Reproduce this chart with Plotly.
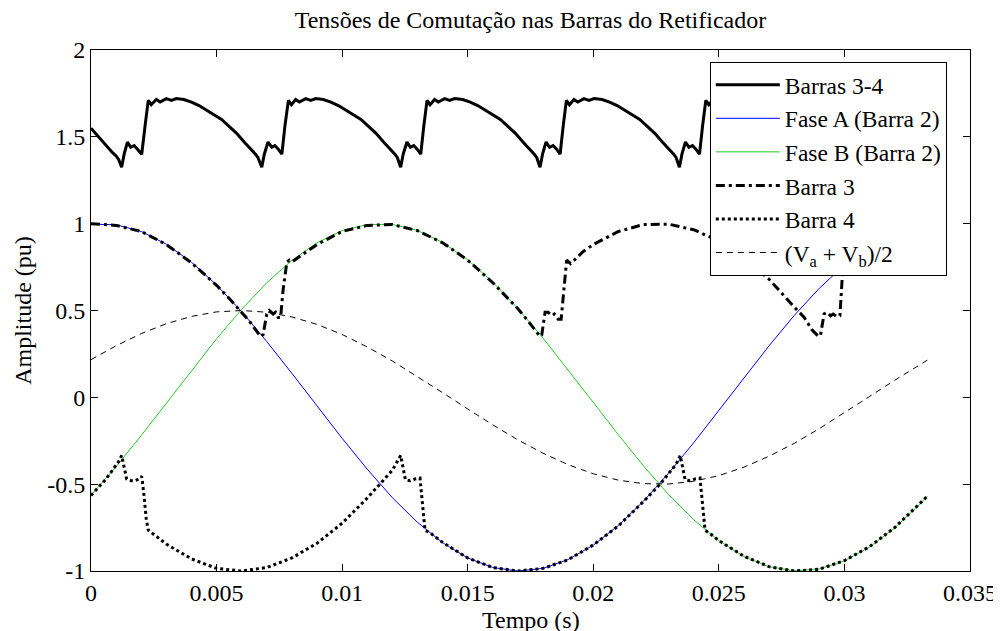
import plotly.graph_objects as go

# ---------------- data (time in ms, values in pu) ----------------
t_phase = [0, 1, 2, 3, 4, 5, 6, 7, 8, 9, 10, 11, 12, 13, 14, 15, 16, 17, 18, 19,
           20, 21, 22, 23, 24, 25, 26, 27, 28, 29, 30, 31, 32, 33, 33.3]
fase_a = [0.997, 0.994, 0.955, 0.882, 0.778, 0.647, 0.493, 0.321, 0.138, -0.050,
          -0.236, -0.414, -0.578, -0.720, -0.837, -0.925, -0.980, -1.000, -0.985, -0.934,
          -0.851, -0.738, -0.598, -0.437, -0.261, -0.075, 0.113, 0.297, 0.471, 0.628,
          0.762, 0.870, 0.947, 0.990, 0.997]
fase_b = [-0.564, -0.399, -0.220, -0.034, 0.154, 0.337, 0.507, 0.660, 0.789, 0.890,
          0.960, 0.995, 0.996, 0.961, 0.892, 0.792, 0.663, 0.511, 0.341, 0.158,
          -0.029, -0.216, -0.395, -0.560, -0.705, -0.826, -0.917, -0.975, -0.999, -0.988,
          -0.942, -0.862, -0.752, -0.615, -0.569]
media_ab = [0.217, 0.297, 0.367, 0.424, 0.466, 0.492, 0.500, 0.490, 0.463, 0.420,
            0.362, 0.290, 0.209, 0.120, 0.027, -0.067, -0.159, -0.245, -0.322, -0.388,
            -0.440, -0.477, -0.497, -0.499, -0.483, -0.451, -0.402, -0.339, -0.265, -0.180,
            -0.090, 0.005, 0.098, 0.188, 0.214]

t_b3 = [0, 1, 2, 3, 4, 5, 5.5, 6, 6.3, 6.55, 6.75,
        6.85, 7.0, 7.1, 7.25, 7.35, 7.45, 7.55, 7.65, 7.8, 7.9,
        8.0, 8.3, 9, 10, 11, 12, 13, 14, 15, 16, 17, 17.4, 17.7, 17.88,
        17.95, 18.08, 18.2, 18.35, 18.45, 18.6, 18.72, 18.82, 18.94,
        19.1, 19.3, 19.6, 20, 21, 22, 23, 24, 25, 26, 27, 28, 28.4, 28.7, 28.97,
        29.05, 29.19, 29.3, 29.45, 29.55, 29.7, 29.82, 29.93,
        30, 31, 32, 33, 33.3]
barra3 = [1.0, 0.99, 0.955, 0.88, 0.775, 0.645, 0.57, 0.49, 0.44, 0.39, 0.35,
          0.36, 0.48, 0.50, 0.48, 0.49, 0.46, 0.46, 0.62, 0.78, 0.79,
          0.78, 0.81, 0.88, 0.955, 0.99, 0.995, 0.96, 0.89, 0.79, 0.66, 0.51, 0.44, 0.38, 0.35,
          0.36, 0.49, 0.49, 0.47, 0.48, 0.45, 0.45, 0.62, 0.79,
          0.77, 0.80, 0.84, 0.88, 0.955, 0.995, 0.997, 0.965, 0.90, 0.80, 0.68, 0.52, 0.46, 0.39, 0.35,
          0.36, 0.48, 0.49, 0.47, 0.48, 0.465, 0.47, 0.73,
          0.76, 0.87, 0.945, 0.99, 0.997]

t_b4 = [0, 0.3, 0.6, 0.9, 1.1, 1.22, 1.32, 1.42, 1.6, 1.75, 1.9, 2.02, 2.1, 2.2, 2.28,
        2.5, 3, 4, 5, 6, 7, 8, 9, 10, 11, 11.5, 12, 12.33,
        12.42, 12.52, 12.7, 12.9, 13.1, 13.2, 13.3,
        13.5, 14, 15, 16, 17, 18, 19, 20, 21, 22, 22.66, 23, 23.3, 23.46,
        23.56, 23.66, 23.85, 24.05, 24.25, 24.35, 24.45,
        24.7, 25, 26, 27, 28, 29, 30, 31, 32, 33, 33.3]
barra4 = [-0.565, -0.52, -0.47, -0.41, -0.37, -0.335, -0.40, -0.47, -0.48, -0.48, -0.47, -0.455, -0.55, -0.70, -0.765,
          -0.79, -0.845, -0.93, -0.985, -1.0, -0.98, -0.925, -0.84, -0.725, -0.58, -0.50, -0.42, -0.335,
          -0.40, -0.475, -0.48, -0.47, -0.465, -0.60, -0.765,
          -0.78, -0.835, -0.925, -0.98, -1.0, -0.985, -0.935, -0.85, -0.74, -0.60, -0.50, -0.44, -0.385, -0.335,
          -0.40, -0.475, -0.48, -0.47, -0.465, -0.60, -0.765,
          -0.79, -0.825, -0.915, -0.975, -1.0, -0.99, -0.94, -0.86, -0.75, -0.615, -0.57]

t_b34 = [0, 0.3, 0.6, 0.85, 1.0, 1.1, 1.22, 1.32, 1.45, 1.58, 1.72, 1.85, 2.02, 2.15, 2.28, 2.4, 2.6, 2.75,
         3.0, 3.2, 3.4, 3.7, 4.0, 4.3, 4.6, 4.9, 5.2, 5.5, 5.8, 6.1, 6.4, 6.55, 6.65, 6.8,
         6.9, 7.05, 7.2, 7.32, 7.45, 7.6, 7.72, 7.86, 7.98, 8.15, 8.3, 8.55, 8.75, 8.95, 9.25, 9.55,
         9.85, 10.15, 10.45, 10.75, 11.05, 11.35, 11.65, 11.95, 12.1, 12.2, 12.33,
         12.43, 12.58, 12.72, 12.85, 12.98, 13.13, 13.25, 13.38, 13.5, 13.68, 13.83, 14.08, 14.28, 14.48,
         14.8, 15.1, 15.4, 15.7, 16.0, 16.3, 16.6, 16.9, 17.2, 17.5, 17.65, 17.75, 17.88,
         17.98, 18.12, 18.26, 18.4, 18.53, 18.68, 18.8, 18.93, 19.05, 19.23, 19.38, 19.63, 19.83, 20.03,
         20.35, 20.65, 20.95, 21.25, 21.55, 21.85, 22.15, 22.45, 22.75, 23.05, 23.2, 23.3, 23.43,
         23.53, 23.67, 23.81, 23.95, 24.08, 24.23, 24.35, 24.48, 24.6, 24.78, 24.93, 25.18, 25.38, 25.58,
         25.9, 26.2, 26.5, 26.8, 27.1, 27.4, 27.7, 28.0, 28.3, 28.6, 28.75, 28.85, 28.98,
         29.08, 29.22, 29.36, 29.5, 29.63, 29.78, 29.9, 30.03, 30.15, 30.33, 30.5, 30.75, 31.0, 31.2,
         31.5, 31.8, 32.1, 32.4, 32.7, 33.0, 33.3]
barras34 = [1.55, 1.50, 1.45, 1.41, 1.39, 1.37, 1.325, 1.40, 1.47, 1.44, 1.45, 1.43, 1.40, 1.56, 1.71, 1.685, 1.715, 1.70,
            1.72, 1.71, 1.72, 1.715, 1.70, 1.68, 1.655, 1.63, 1.60, 1.56, 1.52, 1.47, 1.425, 1.40, 1.38, 1.325,
            1.40, 1.47, 1.44, 1.45, 1.43, 1.40, 1.56, 1.71, 1.685, 1.715, 1.70, 1.72, 1.71, 1.72, 1.715, 1.70,
            1.68, 1.655, 1.63, 1.60, 1.56, 1.52, 1.47, 1.425, 1.40, 1.38, 1.325,
            1.40, 1.47, 1.44, 1.45, 1.43, 1.40, 1.56, 1.71, 1.685, 1.715, 1.70, 1.72, 1.71, 1.72,
            1.715, 1.70, 1.68, 1.655, 1.63, 1.60, 1.56, 1.52, 1.47, 1.425, 1.40, 1.38, 1.325,
            1.40, 1.47, 1.44, 1.45, 1.43, 1.40, 1.56, 1.71, 1.685, 1.715, 1.70, 1.72, 1.71, 1.72,
            1.715, 1.70, 1.68, 1.655, 1.63, 1.60, 1.56, 1.52, 1.47, 1.425, 1.40, 1.38, 1.325,
            1.40, 1.47, 1.44, 1.45, 1.43, 1.40, 1.56, 1.71, 1.685, 1.715, 1.70, 1.72, 1.71, 1.72,
            1.715, 1.70, 1.68, 1.655, 1.63, 1.60, 1.56, 1.52, 1.47, 1.425, 1.40, 1.38, 1.325,
            1.40, 1.47, 1.44, 1.45, 1.43, 1.40, 1.56, 1.71, 1.685, 1.715, 1.70, 1.72, 1.71, 1.72,
            1.715, 1.70, 1.68, 1.655, 1.63, 1.60, 1.56]

x_tickvals = [0, 0.005, 0.01, 0.015, 0.02, 0.025, 0.03, 0.035]
x_ticktext = ["0", "0.005", "0.01", "0.015", "0.02", "0.025", "0.03", "0.035"]
y_tickvals = [-1, -0.5, 0, 0.5, 1, 1.5, 2]
y_ticktext = ["-1", "-0.5", "0", "0.5", "1", "1.5", "2"]


def sec(ms):
    return [v / 1000.0 for v in ms]


FONT = "Liberation Serif, Times New Roman, Times, serif"

# the page body keeps its default 8px margin: margins are reduced by 8px to compensate
FIG_W, FIG_H = 1001, 631

fig = go.Figure()
fig.add_trace(go.Scatter(x=sec(t_b34), y=barras34, mode="lines", name="Barras 3-4",
                         line=dict(color="black", width=3)))
fig.add_trace(go.Scatter(x=sec(t_phase), y=fase_a, mode="lines", name="Fase A (Barra 2)",
                         line=dict(color="#0000ff", width=1)))
fig.add_trace(go.Scatter(x=sec(t_phase), y=fase_b, mode="lines", name="Fase B (Barra 2)",
                         line=dict(color="#22cc22", width=1)))
fig.add_trace(go.Scatter(x=sec(t_b3), y=barra3, mode="lines", name="Barra 3",
                         line=dict(color="black", width=3, dash="9px,4px,3px,4px")))
fig.add_trace(go.Scatter(x=sec(t_b4), y=barra4, mode="lines", name="Barra 4",
                         line=dict(color="black", width=3, dash="3px,3px")))
fig.add_trace(go.Scatter(x=sec(t_phase), y=media_ab, mode="lines",
                         name="(V<sub>a</sub> + V<sub>b</sub>)/2",
                         line=dict(color="black", width=1, dash="6px,5px")))

axis_common = dict(showgrid=False, zeroline=False, showline=True, linecolor="black", linewidth=1,
                   mirror="ticks", ticks="inside", ticklen=7, tickcolor="black",
                   tickfont=dict(family=FONT, size=24, color="black"))

fig.update_layout(
    width=FIG_W, height=FIG_H,
    margin=dict(l=83, r=39, t=42, b=68),
    paper_bgcolor="white", plot_bgcolor="white",
    font=dict(family=FONT, size=24, color="black"),
    title=dict(text="Tensões de Comutação nas Barras do Retificador", x=0.5, xref="paper",
               xanchor="center", y=1 - 12 / FIG_H, yref="container", yanchor="middle",
               font=dict(family=FONT, size=24, color="black")),
    xaxis=dict(range=[0, 0.035], tickvals=x_tickvals, ticktext=x_ticktext, **axis_common),
    yaxis=dict(range=[-1, 2], tickvals=y_tickvals, ticktext=y_ticktext,
               title=dict(text="Amplitude (pu)", font=dict(family=FONT, size=24), standoff=8),
               **axis_common),
    legend=dict(x=0.704, y=0.977, xanchor="left", yanchor="top",
                bgcolor="white", bordercolor="black", borderwidth=1,
                font=dict(family=FONT, size=23.5, color="black"),
                itemwidth=64, tracegroupgap=0),
    showlegend=True,
    annotations=[dict(text="Tempo (s)", x=0.5, y=0, xref="paper", yref="paper",
                      xanchor="center", yanchor="top", yshift=-34, showarrow=False,
                      font=dict(family=FONT, size=24, color="black"))],
)

fig.write_html("out.html")
